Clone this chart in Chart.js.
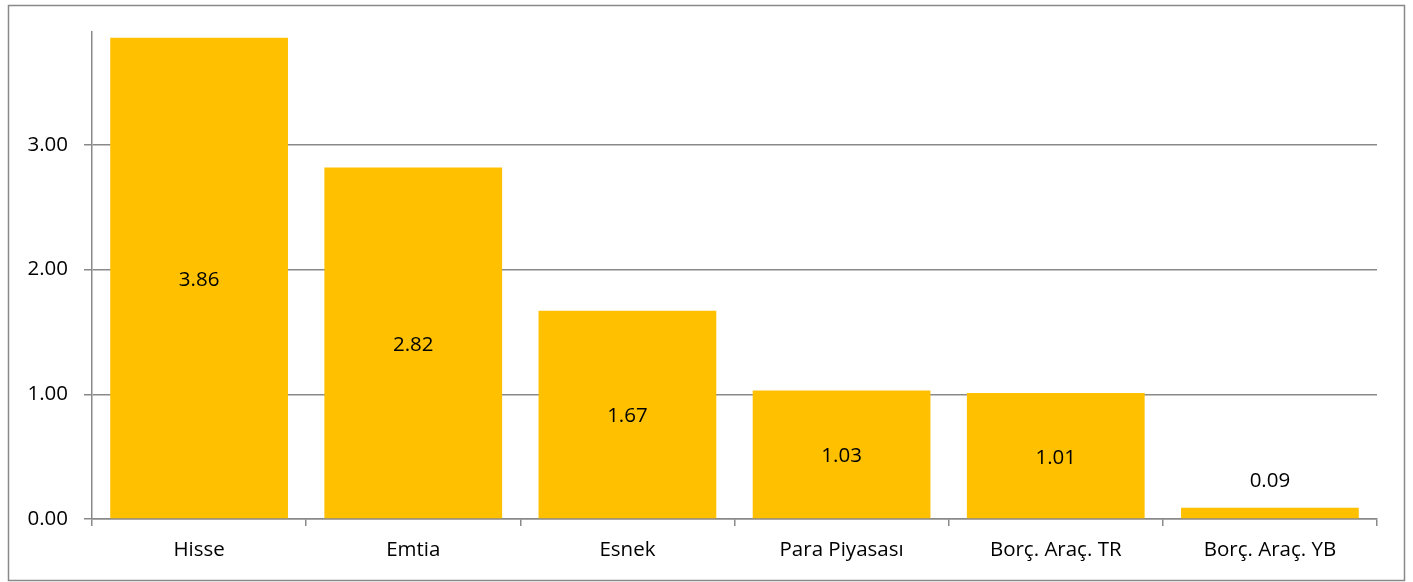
<!DOCTYPE html>
<html>
<head>
<meta charset="utf-8">
<script src="https://cdn.jsdelivr.net/npm/chart.js@4/dist/chart.umd.min.js"></script>
<style>
  html, body { margin: 0; padding: 0; background: #ffffff; }
  #wrap { position: absolute; left: 0; top: 0; width: 1413px; height: 582px; }
</style>
</head>
<body>
<div id="wrap"><canvas id="c" width="1413" height="582"></canvas></div>
<script>
const categories = ["Hisse", "Emtia", "Esnek", "Para Piyasası", "Borç. Araç. TR", "Borç. Araç. YB"];
const values = [3.86, 2.82, 1.67, 1.03, 1.01, 0.09];
const yTickValues = [0, 1, 2, 3];

const FONT = "'Open Sans', sans-serif";
const GREY = "#898989";

const borderPlugin = {
  id: "outerBorder",
  beforeDraw(chart) {
    const ctx = chart.ctx;
    ctx.save();
    ctx.fillStyle = "#ffffff";
    ctx.fillRect(0, 0, chart.width, chart.height);
    ctx.strokeStyle = GREY;
    ctx.lineWidth = 1.5;
    ctx.strokeRect(8.5, 5.5, 1396, 575);
    ctx.restore();
  }
};

const labelPlugin = {
  id: "barLabels",
  afterDatasetsDraw(chart) {
    const ctx = chart.ctx;
    const meta = chart.getDatasetMeta(0);
    ctx.save();
    ctx.font = "20.5px " + FONT;
    ctx.fillStyle = "#000000";
    ctx.textAlign = "center";
    ctx.textBaseline = "middle";
    meta.data.forEach((bar, i) => {
      const v = values[i];
      const h = bar.base - bar.y;
      let y;
      if (h > 40) y = (bar.y + bar.base) / 2 + 2;
      else y = bar.y - 27;
      ctx.fillText(v.toFixed(2), bar.x, y);
    });
    ctx.restore();
  }
};

new Chart(document.getElementById("c"), {
  type: "bar",
  data: {
    labels: categories,
    datasets: [{
      data: values,
      backgroundColor: "#FFC000",
      borderWidth: 0,
      barPercentage: 0.83,
      categoryPercentage: 1.0
    }]
  },
  options: {
    responsive: false,
    animation: false,
    devicePixelRatio: 1,
    layout: { padding: { left: 0, right: 36, top: 32, bottom: 0 } },
    plugins: {
      legend: { display: false },
      tooltip: { enabled: false }
    },
    scales: {
      x: {
        grid: {
          display: true,
          drawOnChartArea: false,
          drawTicks: true,
          tickLength: 7,
          color: GREY,
          lineWidth: 1.5,
          offset: true
        },
        border: { display: true, color: GREY, width: 1.5 },
        ticks: {
          color: "#000000",
          font: { family: FONT, size: 20.5 },
          padding: 12,
          maxRotation: 0
        },
        afterFit(scale) { scale.height = 63; }
      },
      y: {
        min: 0,
        max: 3.906,
        grid: {
          color: GREY,
          lineWidth: 1.5,
          drawTicks: true,
          tickLength: 8
        },
        border: { display: true, color: GREY, width: 1.5 },
        ticks: {
          stepSize: 1,
          color: "#000000",
          font: { family: FONT, size: 20.5 },
          padding: 16,
          callback: (v) => Number(v).toFixed(2)
        },
        afterBuildTicks(scale) {
          scale.ticks = yTickValues.map(v => ({ value: v }));
        },
        afterFit(scale) { scale.width = 92; }
      }
    }
  },
  plugins: [borderPlugin, labelPlugin]
});
</script>
</body>
</html>
